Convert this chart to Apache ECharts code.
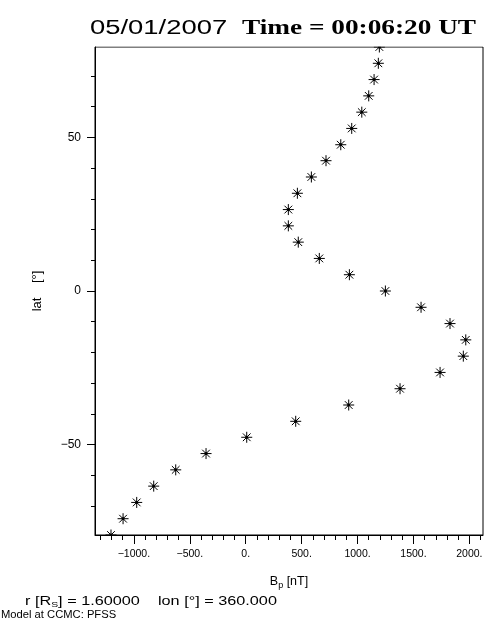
<!DOCTYPE html>
<html>
<head>
<meta charset="utf-8">
<script src="https://cdn.jsdelivr.net/npm/echarts@6/dist/echarts.min.js"></script>
<style>html,body{margin:0;padding:0;background:#fff;}#c{width:504px;height:630px;}</style>
</head>
<body>
<div id="c"></div>
<script>
// Latitude [deg] of each sample (top to bottom)
const lat = [79.4, 74.1, 68.8, 63.5, 58.2, 52.9, 47.6, 42.4, 37.1, 31.8, 26.5, 21.2, 15.9, 10.6, 5.3, 0,
  -5.3, -10.6, -15.9, -21.2, -26.5, -31.8, -37.1, -42.4, -47.6, -52.9, -58.2, -63.5, -68.8, -74.1, -79.4];
// B_p [nT] at each latitude
const bp = [1195, 1186, 1148, 1100, 1038, 948, 850, 718, 587, 462, 381, 381, 470, 658, 927, 1249,
  1568, 1827, 1968, 1946, 1738, 1380, 921, 447, 9, -355, -626, -823, -975, -1097, -1205];
// Tick values
const xMajorTicks = [-1000, -500, 0, 500, 1000, 1500, 2000];
const xMinorTicks = [-1300, -1200, -1100, -900, -800, -700, -600, -400, -300, -200, -100, 100, 200, 300, 400,
  600, 700, 800, 900, 1100, 1200, 1300, 1400, 1600, 1700, 1800, 1900, 2100];
const yMajorTicks = [-50, 0, 50];
const yMinorTicks = [-70, -60, -40, -30, -20, -10, 10, 20, 30, 40, 60, 70];
const xRange = [-1348, 2122];
const yRange = [-79.4, 79.4];

const chart = echarts.init(document.getElementById('c'), null, {renderer: 'canvas'});
const FONT = 'Liberation Sans';
const STAR = 'path://M5 0L5 10M0 5L10 5M1.5 1.5L8.5 8.5M8.5 1.5L1.5 8.5M4.2 4.2L5.8 4.2L5.8 5.8L4.2 5.8Z';

const points = bp.map((v, i) => [v, lat[i]]);

chart.setOption({
  animation: false,
  backgroundColor: '#fff',
  grid: {left: 95, top: 47, width: 388, height: 488, show: true, borderColor: '#000', borderWidth: 1, backgroundColor: 'transparent', z: 0},
  xAxis: [{
    type: 'value', min: xRange[0], max: xRange[1], position: 'bottom', z: 10,
    axisLine: {show: true, onZero: false, lineStyle: {color: '#000', width: 1}},
    axisTick: {show: true, inside: false, length: 9, customValues: xMajorTicks, lineStyle: {color: '#000'}},
    axisLabel: {show: true, customValues: xMajorTicks, margin: 14, color: '#000', fontFamily: FONT, fontSize: 10.5,
      formatter: v => (v < 0 ? '\u2212' + (-v) : String(v)) + '.'},
    splitLine: {show: false},
    name: '{n|B}{s|p}{n| [nT]}', nameLocation: 'middle', nameGap: 39,
    nameTextStyle: {rich: {n: {fontFamily: FONT, fontSize: 12.5, color: '#000'}, s: {fontFamily: FONT, fontSize: 9, color: '#000', verticalAlign: 'bottom', padding: [7, 0, 0, 0]}}}
  }, {
    type: 'value', min: xRange[0], max: xRange[1], position: 'bottom', z: 10,
    axisLine: {show: false, onZero: false},
    axisTick: {show: true, inside: false, length: 5, customValues: xMinorTicks, lineStyle: {color: '#000'}},
    axisLabel: {show: false},
    splitLine: {show: false}
  }],
  yAxis: [{
    type: 'value', min: yRange[0], max: yRange[1], position: 'left', z: 10,
    axisLine: {show: true, onZero: false, lineStyle: {color: '#000', width: 1}},
    axisTick: {show: true, inside: false, length: 8, customValues: yMajorTicks, lineStyle: {color: '#000'}},
    axisLabel: {show: true, customValues: yMajorTicks, margin: 14, color: '#000', fontFamily: FONT, fontSize: 12,
      formatter: v => (v < 0 ? '\u2212' + (-v) : String(v))},
    splitLine: {show: false},
    name: 'lat    [\u00b0]', nameLocation: 'middle', nameGap: 51,
    nameTextStyle: {fontFamily: FONT, fontSize: 13, color: '#000'}
  }, {
    type: 'value', min: yRange[0], max: yRange[1], position: 'left', z: 10,
    axisLine: {show: false, onZero: false},
    axisTick: {show: true, inside: false, length: 4, customValues: yMinorTicks, lineStyle: {color: '#000'}},
    axisLabel: {show: false},
    splitLine: {show: false}
  }],
  series: [{
    type: 'scatter', xAxisIndex: 0, yAxisIndex: 0, z: 2,
    data: points,
    symbol: STAR, symbolSize: 11,
    itemStyle: {color: '#000', borderColor: '#000', borderWidth: 1, opacity: 1},
    emphasis: {disabled: true}
  }],
  graphic: [
    // clip markers to the plot frame
    {type: 'rect', z: 5, silent: true, shape: {x: 85, y: 39, width: 410, height: 7.5}, style: {fill: '#fff'}},
    {type: 'rect', z: 5, silent: true, shape: {x: 85, y: 535.5, width: 410, height: 8}, style: {fill: '#fff'}},
    {type: 'text', z: 20, x: 90, y: 28, scaleX: 1.37, style: {text: '05/01/2007', fontFamily: FONT, fontSize: 20, fill: '#000', verticalAlign: 'middle', align: 'left'}},
    {type: 'text', z: 20, x: 242, y: 28, scaleX: 1.24, style: {text: 'Time = 00:06:20 UT', fontFamily: 'Liberation Serif', fontWeight: 'bold', fontSize: 22, fill: '#000', verticalAlign: 'middle', align: 'left'}},
    {type: 'text', z: 20, x: 25, y: 602, scaleX: 1.3, style: {
      text: '{n|r [R}{s|S}{n|] = 1.60000    lon [\u00b0] = 360.000}',
      rich: {n: {fontFamily: FONT, fontSize: 12.5, fill: '#000'}, s: {fontFamily: FONT, fontSize: 8, fill: '#000', verticalAlign: 'bottom', padding: [6, 0, 0, 0]}},
      verticalAlign: 'middle', align: 'left'}},
    {type: 'text', z: 20, x: 1, y: 615, scaleX: 1.12, style: {text: 'Model at CCMC: PFSS', fontFamily: FONT, fontSize: 10, fill: '#000', verticalAlign: 'middle', align: 'left'}}
  ]
});
</script>
</body>
</html>
